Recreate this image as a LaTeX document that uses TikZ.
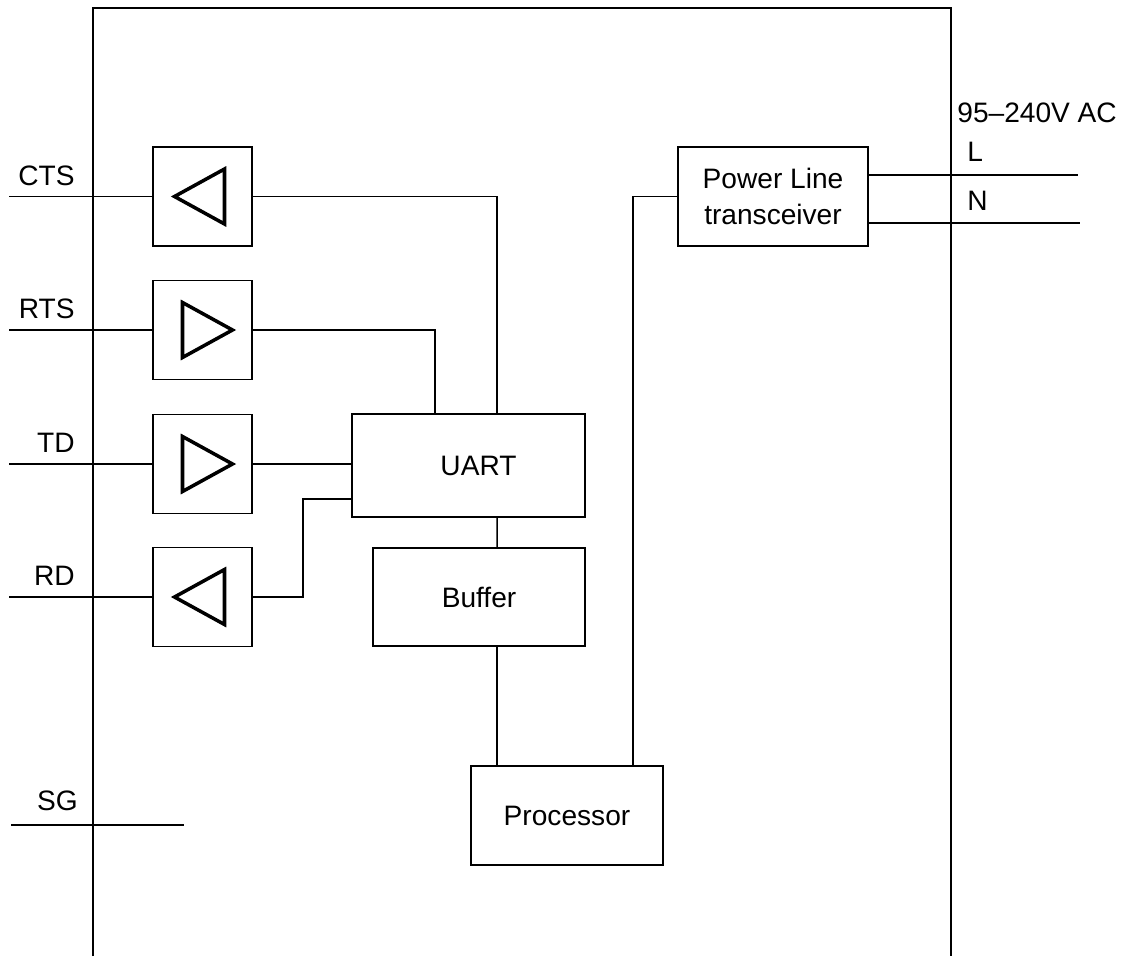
\documentclass[tikz,border=0pt]{standalone}
\usepackage{fontspec}
\setmainfont{Liberation Sans}
\usetikzlibrary{calc}

\begin{document}
\begin{tikzpicture}[
	x=0.02cm, y=-0.02cm,
	every node/.style = {font=\fontsize{16}{21}\selectfont},
	amp/.style = {rectangle, draw=black, line width=1.1pt, minimum width=1.98cm, minimum height=1.98cm, inner sep=0},
	blk/.style = {rectangle, draw=black, line width=1.1pt, inner sep=0, align=center},
	w/.style = {line width=0.85pt},
	tri/.style = {line width=2pt, line join=miter},
	lbl/.style = {inner sep=0}
	]
	\useasboundingbox (0,0) rectangle (1141,956);
	
	%Outline
	\coordinate	(bl)	at	(93, 956);
	\coordinate	(tl)	at	(93, 8);
	\coordinate	(tr)	at	(951, 8);
	\coordinate	(br)	at	(951, 956);
	\draw[w]	(bl) -- (tl) -- (tr) -- (br);
	
	%Nodes
	\node[amp]	(c)		at	(202.5, 196.5)	{};
	\node[amp]	(r)		at	(202.5, 330)	{};
	\node[amp]	(t)		at	(202.5, 464)	{};
	\node[amp]	(d)		at	(202.5, 597)	{};
	
	\node[blk, minimum width=4.66cm, minimum height=2.06cm]	(u)	at	(468.5, 465.5)	{\hspace*{0.4cm}UART};
	\node[blk, minimum width=4.24cm, minimum height=1.96cm]	(b)	at	(479, 597)		{Buffer};
	\node[blk, minimum width=3.84cm, minimum height=1.98cm]	(p)	at	(567, 815.5)	{Processor};
	\node[blk, minimum width=3.8cm, minimum height=1.98cm]	(x)	at	(773, 196.5)	{Power Line\\transceiver};
	
	\node[lbl, anchor=base east]	(lc)	at	(75, 185)	{CTS};
	\node[lbl, anchor=base east]	(lr)	at	(75, 318)	{RTS};
	\node[lbl, anchor=base east]	(lt)	at	(75, 452)	{TD};
	\node[lbl, anchor=base east]	(ld)	at	(75, 585)	{RD};
	\node[lbl, anchor=base east]	(lg)	at	(78, 810)	{SG};
	
	\node[lbl, anchor=base west]	(lac)	at	(957, 123)	{95–240V AC};
	\node[lbl, anchor=base west]	(ll)	at	(967, 162)	{L};
	\node[lbl, anchor=base west]	(ln)	at	(967, 210)	{N};
	
	\coordinate	(cin)	at	(9, 196.5);
	\coordinate	(rin)	at	(9, 330);
	\coordinate	(tin)	at	(9, 464);
	\coordinate	(din)	at	(9, 597);
	\coordinate	(g1)	at	(11, 825);
	\coordinate	(g2)	at	(184, 825);
	\coordinate	(lend)	at	(1078, 175);
	\coordinate	(nend)	at	(1080, 223);
	
	%Triangles
	\draw[tri]	(c.center) ++(-28,0) -- ++(50,-27.5) -- ++(0,55) -- cycle;
	\draw[tri]	(r.center) ++(30,0) -- ++(-50,-27.5) -- ++(0,55) -- cycle;
	\draw[tri]	(t.center) ++(30,0) -- ++(-50,-27.5) -- ++(0,55) -- cycle;
	\draw[tri]	(d.center) ++(-28,0) -- ++(50,-27.5) -- ++(0,55) -- cycle;
	
	%Lines
	\draw[w]	(cin)	--	(c.west);
	\draw[w]	(rin)	--	(r.west);
	\draw[w]	(tin)	--	(t.west);
	\draw[w]	(din)	--	(d.west);
	\draw[w]	(g1)	--	(g2);
	
	\draw[w]	(c.east)	-|	($(u.north west)+(146,0)$);
	\draw[w]	(r.east)	-|	($(u.north west)+(84,0)$);
	\draw[w]	(t.east)	--	(t.east -| u.west);
	\draw[w]	(d.east)	--	++(50,0)	|-	($(u.south west)+(0,-19)$);
	\draw[w]	($(u.south west)+(146,0)$)	--	($(b.north west)+(125,0)$);
	\draw[w]	($(b.south west)+(125,0)$)	coordinate (bp)	--	(bp |- p.north);
	\draw[w]	($(p.north west)+(163,0)$)	|-	(x.west);
	\draw[w]	(lend -| x.east)	--	(lend);
	\draw[w]	(nend -| x.east)	--	(nend);
\end{tikzpicture}
\end{document}
